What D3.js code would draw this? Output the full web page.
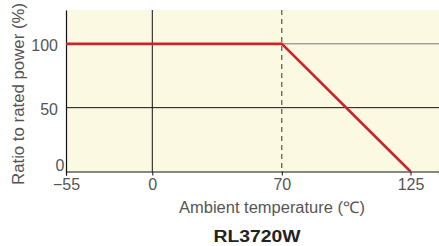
<!DOCTYPE html>
<html>
<head>
<meta charset="utf-8">
<script src="https://cdn.jsdelivr.net/npm/d3@7"></script>
<style>
  body { margin: 0; background: #fff; }
  text { font-family: "Liberation Sans", Arial, sans-serif; }
</style>
</head>
<body>
<script>
// derating curve: temperature (C) vs ratio to rated power (%)
let tempTicks = [-55, 0, 70, 125];
let ratioTicks = [0, 50, 100];
let curveTemp = [-55, 70, 125];
let curveRatio = [100, 100, 0];
let tempMax = 137.5;   // plot area runs a bit past 125
let ratioMax = 126.5;

let width = 439,
    height = 246;

let margin = { top: 10, bottom: 74, left: 66, right: 0 };

let svg = d3.select('body')
  .append('svg')
    .attr('width', width)
    .attr('height', height);

// the x axis is schematic: tick spacing is not proportional
let xScale = d3.scaleLinear()
  .domain([-55, 0, 70, 125, tempMax])
  .range([66, 152.3, 281.8, 410.5, width - margin.right]);

let yScale = d3.scaleLinear()
  .domain([0, ratioMax])
  .range([height - margin.bottom - 0.5, margin.top]);

let bottom = yScale(0);

svg.append('rect')
  .attr('x', xScale(-55))
  .attr('y', yScale(ratioMax))
  .attr('width', xScale(tempMax) - xScale(-55))
  .attr('height', bottom - yScale(ratioMax))
  .attr('fill', '#fbf9e2');

// horizontal grid
svg.selectAll('.hgrid')
  .data(ratioTicks.filter(d => d > 0))
  .enter().append('line')
    .attr('x1', xScale(-55))
    .attr('x2', xScale(tempMax))
    .attr('y1', d => yScale(d))
    .attr('y2', d => yScale(d))
    .attr('stroke', d => d === 100 ? '#777' : '#111')
    .attr('stroke-width', 1);

// vertical line at 0
svg.append('line')
  .attr('x1', xScale(0)).attr('x2', xScale(0))
  .attr('y1', yScale(ratioMax)).attr('y2', bottom)
  .attr('stroke', '#111');

// dashed line at 70
svg.append('line')
  .attr('x1', xScale(70)).attr('x2', xScale(70))
  .attr('y1', yScale(ratioMax)).attr('y2', bottom)
  .attr('stroke', '#333')
  .attr('stroke-dasharray', '5,4');

// axes
let xAxis = svg.append('g')
  .attr('transform', `translate(0,${bottom})`)
  .call(d3.axisBottom(xScale).tickValues(tempTicks).tickSize(4).tickPadding(3)
    .tickFormat(d => d < 0 ? '\u2212' + Math.abs(d) : d));
xAxis.select('.domain').attr('stroke', '#111').attr('stroke-width', 1.2);
xAxis.selectAll('line').attr('stroke', '#111');
xAxis.selectAll('text')
  .attr('fill', '#555')
  .style('font-size', '16px');

let yAxis = svg.append('g')
  .attr('transform', `translate(${margin.left},0)`)
  .call(d3.axisLeft(yScale).tickValues(ratioTicks).tickSize(0).tickPadding(8));
yAxis.select('.domain').attr('stroke', '#111').attr('stroke-width', 1.2);
yAxis.selectAll('text')
  .attr('fill', '#555')
  .attr('dy', d => d === 0 ? '-0.05em' : '0.42em')
  .attr('x', d => d === 0 ? -1.5 : -8)
  .style('font-size', '16px');

// derating curve
let line = d3.line()
  .x(d => xScale(d[0]))
  .y(d => yScale(d[1]));

svg.append('path')
  .datum(curveTemp.map((t, i) => [t, curveRatio[i]]))
  .attr('d', line)
  .attr('fill', 'none')
  .attr('stroke', '#c9252c')
  .attr('stroke-width', 2.6);

// labels
svg.append('text')
  .attr('transform', 'translate(24,94) rotate(-90)')
  .attr('text-anchor', 'middle')
  .attr('fill', '#555')
  .attr('textLength', 182)
  .attr('lengthAdjust', 'spacingAndGlyphs')
  .style('font-size', '16px')
  .text('Ratio to rated power (%)');

svg.append('text')
  .attr('x', 272)
  .attr('y', 213)
  .attr('text-anchor', 'middle')
  .attr('fill', '#555')
  .attr('textLength', 186)
  .attr('lengthAdjust', 'spacingAndGlyphs')
  .style('font-size', '16px')
  .text('Ambient temperature (\u2103)');

svg.append('text')
  .attr('x', 257)
  .attr('y', 242)
  .attr('text-anchor', 'middle')
  .attr('fill', '#222')
  .attr('textLength', 87)
  .attr('lengthAdjust', 'spacingAndGlyphs')
  .style('font-size', '16px')
  .style('font-weight', 'bold')
  .text('RL3720W');
</script>
</body>
</html>
